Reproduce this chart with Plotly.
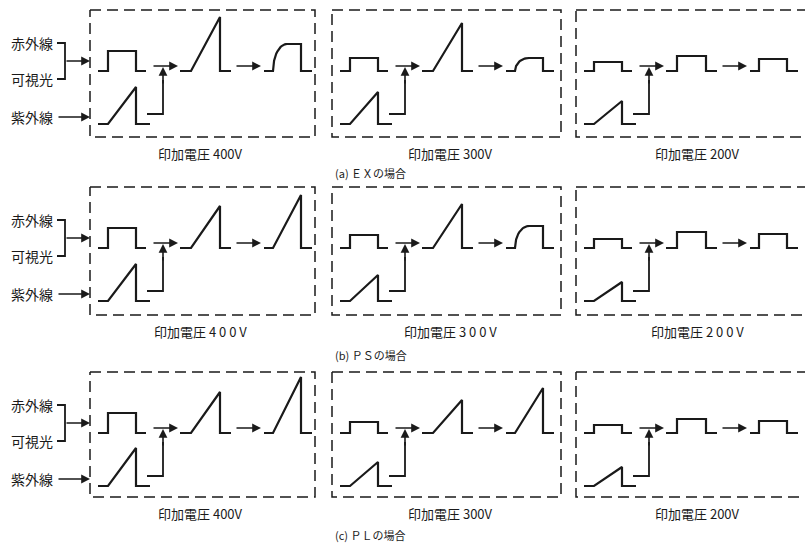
import numpy as np
import plotly.graph_objects as go

W, H = 805, 545

# ---------------- data ----------------
row_captions = ["(a) ＥＸの場合", "(b) ＰＳの場合", "(c) ＰＬの場合"]
voltage_labels = [
    ["印加電圧 400V", "印加電圧 300V", "印加電圧 200V"],
    ["印加電圧 4 0 0 V", "印加電圧 3 0 0 V", "印加電圧 2 0 0 V"],
    ["印加電圧 400V", "印加電圧 300V", "印加電圧 200V"],
]
input_labels = ["赤外線", "可視光", "紫外線"]

# heights (px) of input pulse (IR+visible) and UV ramp per row/column
vis_pulse_h = [[20, 13, 9], [20, 13, 9], [20, 11, 8]]
uv_ramp_h = [[37, 32, 23], [37, 26, 19], [38, 24, 19]]
# first and second output waveform kind / height
out1_kind = [["ramp", "ramp", "pulse"], ["ramp", "ramp", "pulse"], ["ramp", "ramp", "pulse"]]
out1_h = [[54, 48, 15], [42, 44, 16], [41, 33, 14]]
out2_kind = [["round", "round", "pulse"], ["ramp", "round", "pulse"], ["ramp", "ramp", "pulse"]]
out2_h = [[27, 13, 12], [53, 22, 14], [56, 45, 12]]

# ---------------- layout geometry ----------------
panel_left = [90, 332, 576]
panel_right = [315, 561, 812]
row_top = [10, 187, 372]
row_bottom = [137, 315, 497]
label_cx = [200, 450, 697]
label_dy = 16
caption_x = 333
caption_y = [173, 355, 535]

FONT = "Noto Sans CJK JP"
INK = "#1a1a1a"
LW = 2.2

fig = go.Figure()
annotations = []


def add_line(xs, ys, width=LW, dash=None):
    fig.add_trace(go.Scatter(x=xs, y=ys, mode="lines", hoverinfo="skip",
                             line=dict(color=INK, width=width, dash=dash),
                             showlegend=False))


def add_arrow(x0, y0, x1, y1):
    annotations.append(dict(x=x1, y=y1, ax=x0, ay=y0, xref="x", yref="y",
                            axref="x", ayref="y", showarrow=True, text="",
                            arrowhead=2, arrowsize=1.1, arrowwidth=1.6,
                            arrowcolor=INK, standoff=0, startstandoff=0))


def wave(kind, x0, x1, x2, x3, b, h):
    if kind == "pulse":
        return [x0, x1, x1, x2, x2, x3], [b, b, b - h, b - h, b, b]
    if kind == "ramp":
        return [x0, x1, x2, x2, x3], [b, b, b - h, b, b]
    # rounded pulse
    t = np.linspace(0, 1, 14)
    cx = list(x1 + 14 * t)
    cy = list(b - h * np.sqrt(1 - (1 - t) ** 2))
    return ([x0] + cx + [x2, x2, x3]), ([b] + cy + [b - h, b, b])


for r in range(3):
    T, B = row_top[r], row_bottom[r]
    # input labels and bracket
    ys = [T + 33, T + 69, T + 107]
    for lab, yy in zip(input_labels, ys):
        annotations.append(dict(x=55, y=yy, xref="x", yref="y", text=lab,
                                showarrow=False, xanchor="right", yanchor="middle",
                                font=dict(family=FONT, size=14, color=INK)))
    add_line([57, 65, 65, 57], [ys[0], ys[0], ys[1], ys[1]], width=1.8)
    add_arrow(65, (ys[0] + ys[1]) / 2, 90, (ys[0] + ys[1]) / 2)
    add_arrow(57, ys[2], 90, ys[2])

    for c in range(3):
        L, R = panel_left[c], panel_right[c]
        # dashed box
        add_line([L, R, R, L, L], [T, T, B, B, T], width=1.5, dash="11px,6px")
        base = T + 61
        uvb = T + 114
        ay = T + 56
        # input visible/IR pulse
        xs, yv = wave("pulse", L + 8, L + 18, L + 46, L + 56, base, vis_pulse_h[r][c])
        add_line(xs, yv)
        # UV ramp
        xs, yv = wave("ramp", L + 8, L + 18, L + 46, L + 60, uvb, uv_ramp_h[r][c])
        add_line(xs, yv)
        # connector from UV to arrow
        add_line([L + 57, L + 73, L + 73], [T + 104, T + 104, T + 70], width=1.8)
        add_arrow(L + 73, T + 75, L + 73, ay + 1)
        add_arrow(L + 62, ay, L + 88, ay)
        # output 1
        xs, yv = wave(out1_kind[r][c], L + 90, L + 101, L + 130, L + 141, base, out1_h[r][c])
        add_line(xs, yv)
        add_arrow(L + 145, ay, L + 171, ay)
        # output 2
        xs, yv = wave(out2_kind[r][c], L + 174, L + 183, L + 211, L + 222, base, out2_h[r][c])
        add_line(xs, yv)
        # voltage label
        annotations.append(dict(x=label_cx[c], y=B + label_dy, xref="x", yref="y",
                                text=voltage_labels[r][c], showarrow=False,
                                xanchor="center", yanchor="middle",
                                font=dict(family=FONT, size=13, color=INK)))
    annotations.append(dict(x=caption_x, y=caption_y[r], xref="x", yref="y",
                            text=row_captions[r], showarrow=False,
                            xanchor="left", yanchor="middle",
                            font=dict(family=FONT, size=11, color=INK)))

fig.update_layout(
    width=W, height=H, margin=dict(l=0, r=0, t=0, b=0),
    paper_bgcolor="white", plot_bgcolor="white",
    xaxis=dict(range=[0, W], visible=False, fixedrange=True),
    yaxis=dict(range=[H, 0], visible=False, fixedrange=True),
    annotations=annotations, showlegend=False,
)
fig.write_html("out.html", config={"displayModeBar": False})
